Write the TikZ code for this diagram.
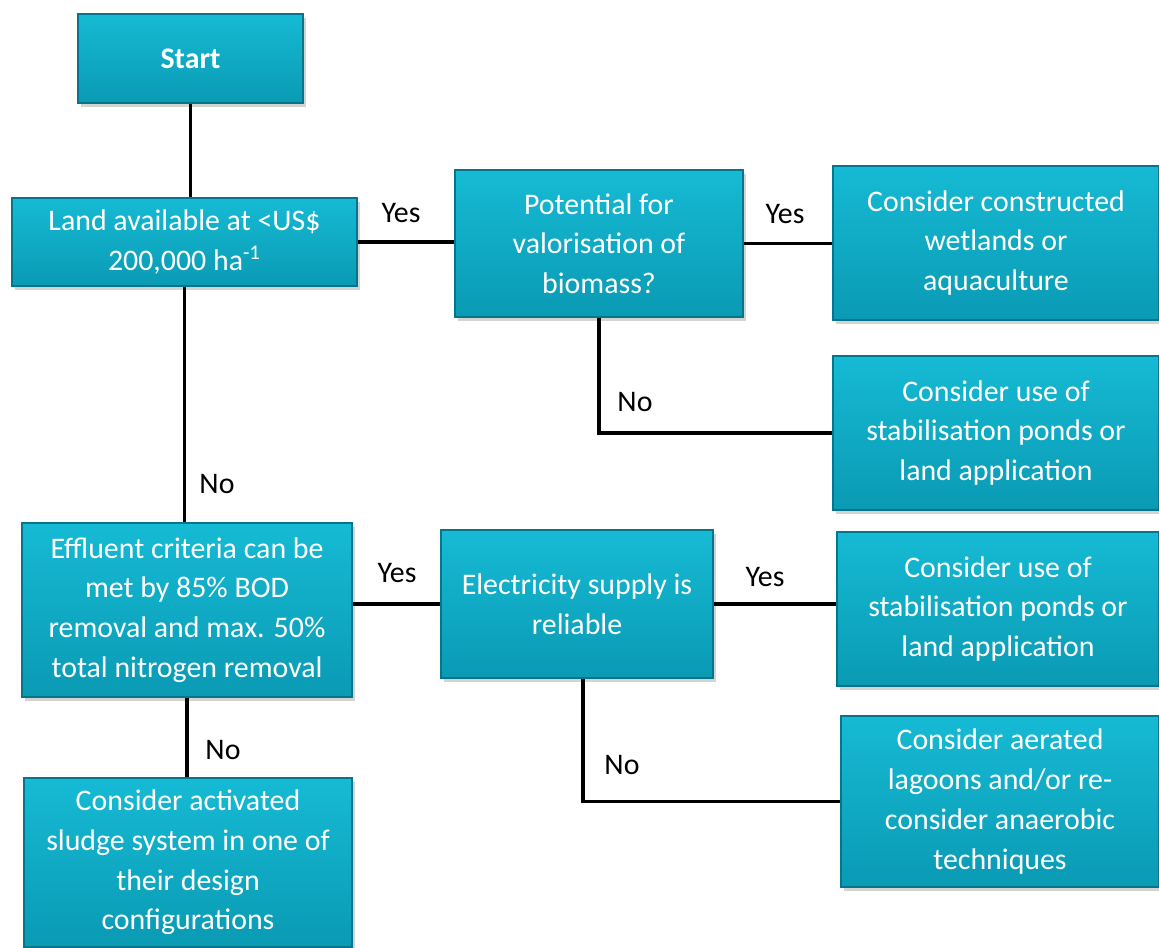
\documentclass[tikz,border=0pt]{standalone}
\usepackage{fontspec}
\setmainfont{Carlito}
\usepackage{tikz}
\usetikzlibrary{calc}
\usetikzlibrary{shadows}
\usetikzlibrary{positioning}
\definecolor{lagoontop}{RGB}{22, 186, 212}
\definecolor{lagoonbottom}{RGB}{10, 154, 180}
\definecolor{deeplagoon}{RGB}{4, 118, 140}

\tikzset{
  procbox/.style={draw=deeplagoon, top color=lagoontop, bottom color=lagoonbottom, line width=0.8pt,
                  text=white, align=center, font=\fontsize{17}{22.6}\selectfont, inner sep=2pt,
                  drop shadow={opacity=0.35, shadow xshift=1.5pt, shadow yshift=-2pt}},
  answer/.style={font=\fontsize{17}{22.6}\selectfont, text=black, inner sep=1pt},
  wire/.style={line width=2pt, black}
}

\begin{document}
\begin{tikzpicture}[x=0.02cm, y=-0.02cm]
            \useasboundingbox (0,0) rectangle (1159,947);
            % boxes
            \node[procbox, minimum width=4.50cm, minimum height=1.78cm] (start)    at ( 190.5,  58.5) {\textbf{Start}};
            \node[procbox, minimum width=6.90cm, minimum height=1.76cm] (land)     at ( 184.5, 242.0) {Land available at <US\$\\200,000 ha\textsuperscript{-1}};
            \node[procbox, minimum width=5.76cm, minimum height=2.94cm] (valor)    at ( 599.0, 243.5) {Potential for\\valorisation of\\biomass?};
            \node[procbox, minimum width=6.52cm, minimum height=3.08cm] (wetland)  at ( 996.0, 243.0) {Consider constructed\\wetlands or\\aquaculture};
            \node[procbox, minimum width=6.52cm, minimum height=3.08cm] (pondsA)   at ( 996.0, 433.0) {Consider use of\\stabilisation ponds or\\land application};
            \node[procbox, minimum width=6.60cm, minimum height=3.48cm] (effluent) at ( 187.0, 610.0) {Effluent criteria can be\\met by 85\% BOD\\removal and max. 50\%\\total nitrogen removal};
            \node[procbox, minimum width=5.44cm, minimum height=2.96cm] (power)    at ( 577.0, 604.0) {Electricity supply is\\reliable};
            \node[procbox, minimum width=6.44cm, minimum height=3.08cm] (pondsB)   at ( 998.0, 609.0) {Consider use of\\stabilisation ponds or\\land application};
            \node[procbox, minimum width=6.36cm, minimum height=3.42cm] (lagoon)   at (1000.0, 801.5) {Consider aerated\\lagoons and/or re-\\consider anaerobic\\techniques};
            \node[procbox, minimum width=6.56cm, minimum height=3.38cm] (sludge)   at ( 188.0, 862.5) {Consider activated\\sludge system in one of\\their design\\configurations};
            % connectors
            \draw[wire] (start.south)              -- (start.south |- land.north);
            \draw[wire] (land.east)                -- (land.east -| valor.west);
            \draw[wire] (valor.east)               -- (valor.east -| wetland.west);
            \draw[wire] (valor.south)              |- (pondsA.west);
            \draw[wire] (land.south)               -- (land.south |- effluent.north);
            \draw[wire] (power.west -| effluent.east) -- (power.west);
            \draw[wire] (power.east)               -- (power.east -| pondsB.west);
            \draw[wire] ([xshift=0.12cm]power.south) |- (lagoon.west);
            \draw[wire] (effluent.south)           -- (effluent.south |- sludge.north);
            % answers
            \node[answer] (yesA) at (401, 213) {Yes};
            \node[answer] (yesB) at (785, 214) {Yes};
            \node[answer] (noA)  at (635, 402) {No};
            \node[answer] (noB)  at (217, 484) {No};
            \node[answer] (yesC) at (397, 573) {Yes};
            \node[answer] (yesD) at (765, 577) {Yes};
            \node[answer] (noC)  at (622, 765) {No};
            \node[answer] (noD)  at (223, 750) {No};
\end{tikzpicture}
\end{document}
